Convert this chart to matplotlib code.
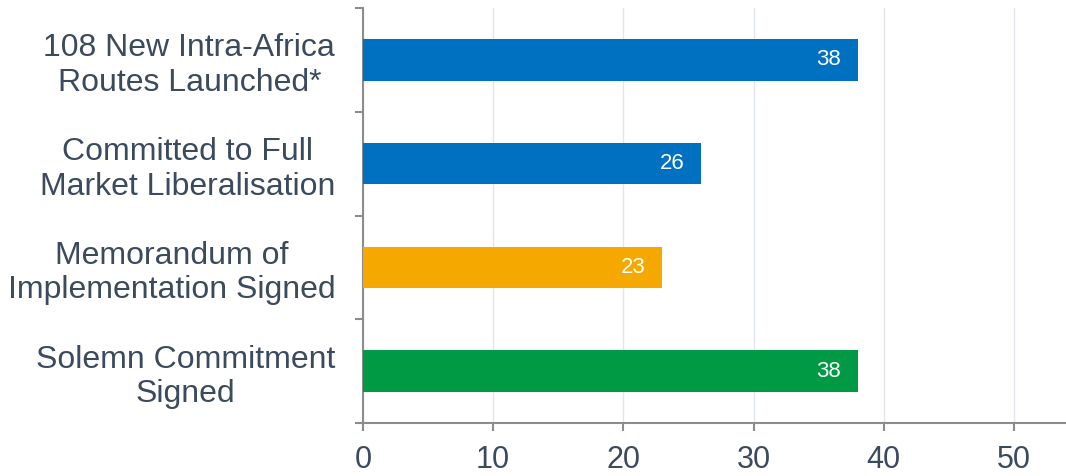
import matplotlib.pyplot as plt

# data (top to bottom as in the chart)
categories = ['108 New Intra-Africa\nRoutes Launched*',
              'Committed to Full\nMarket Liberalisation',
              'Memorandum of\nImplementation Signed',
              'Solemn Commitment\nSigned']
values = [38, 26, 23, 38]
colors = ['#0070C0', '#0070C0', '#F5A800', '#009A44']
x_ticks = [0, 10, 20, 30, 40, 50]

plt.rcParams['font.family'] = ['Liberation Sans', 'DejaVu Sans']
text_col = '#3B4A5C'
axis_col = '#8C8C8C'

fig = plt.figure(figsize=(10.66, 4.76), dpi=100)
ax = fig.add_axes([0.3405, 0.1113, 0.6595, 0.8719])

pos = list(range(len(categories)))
ax.barh(pos, values, height=0.4, color=colors, zorder=3)

# value labels inside bar ends
for p, v in zip(pos, values):
	ax.text(v - 1.3, p, str(v), ha='right', va='center', color='white', fontsize=16, zorder=4)

ax.set_xlim(0, 54)
ax.set_ylim(len(categories) - 0.5, -0.5)
ax.set_xticks(x_ticks)
ax.set_xticklabels([str(t) for t in x_ticks])

ax.set_yticks(pos)
ax.set_yticklabels(categories, multialignment='center')
ax.set_yticks([p - 0.5 for p in pos] + [len(pos) - 0.5], minor=True)
ax.tick_params(axis='y', which='major', length=0, pad=20, labelsize=23, labelcolor=text_col)
ax.tick_params(axis='y', which='minor', length=6, width=1.5, color=axis_col)
ax.tick_params(axis='x', length=6, width=1.5, color=axis_col, labelsize=22, labelcolor=text_col, pad=10)

ax.grid(axis='x', color='#E1E6EE', linewidth=1, zorder=0)
for s in ['top', 'right']:
	ax.spines[s].set_visible(False)
for s in ['left', 'bottom']:
	ax.spines[s].set_color(axis_col)
	ax.spines[s].set_linewidth(1.5)

fig.savefig('out.png', dpi=100)
